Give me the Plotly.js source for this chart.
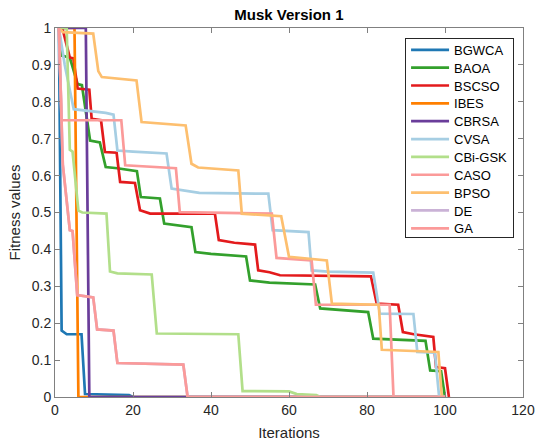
<!DOCTYPE html>
<html>
<head>
<meta charset="utf-8">
<script src="https://cdn.plot.ly/plotly-3.0.1.min.js"></script>
<style>html,body{margin:0;padding:0;background:#fff;}#chart{width:537px;height:444px;}</style>
</head>
<body>
<div id="chart"></div>
<script>
var seriesNames = ["BGWCA","BAOA","BSCSO","IBES","CBRSA","CVSA","CBi-GSK","CASO","BPSO","DE","GA"];
var seriesColors = ["#1f78b4","#33a02c","#e31a1c","#ff7f00","#6a3d9a","#a6cee3","#b2df8a","#fb9a99","#fdbf6f","#cab2d6","#fb9a99"];

var bgwcaX = [1,1.7,3,6.8,7.7,19,20,100];
var bgwcaY = [1,0.18,0.17,0.17,0.008,0.005,0,0];

var baoaX = [1,1.7,3.8,5.8,6.9,9,11.5,13,16,21,22,26.9,28,31,35,36,40,49,50,55,66.7,68,72,80.3,81.6,95,96.2,99,100];
var baoaY = [1,0.925,0.92,0.848,0.845,0.695,0.69,0.623,0.62,0.612,0.542,0.538,0.47,0.465,0.46,0.393,0.388,0.381,0.316,0.31,0.305,0.24,0.237,0.23,0.158,0.152,0.072,0.07,0];

var bscsoX = [1,2,3.8,4.7,5.8,8.8,9.4,11.8,12.8,15.8,16.7,20.5,21.8,24.4,41,42,46,51.3,52.1,55,57.7,81,82.5,88,89.2,92,97,97.7,100,101];
var bscsoY = [1,0.995,0.92,0.918,0.836,0.833,0.754,0.75,0.664,0.662,0.583,0.58,0.506,0.497,0.497,0.425,0.418,0.413,0.343,0.338,0.33,0.327,0.253,0.25,0.176,0.17,0.163,0.081,0.078,0];

var ibesX = [1,5,6,100];
var ibesY = [1,1,0,0];

var cbrsaX = [1,7.9,8.8,100];
var cbrsaY = [1,1,0,0];

var cvsaX = [1,2.5,4.8,13,15,16,20,28.6,29.9,33,37,54.7,55.8,65,65.8,70,81.6,83.3,91.9,92.9,97.4,98.5,100];
var cvsaY = [1,0.9,0.78,0.77,0.765,0.668,0.665,0.66,0.565,0.56,0.553,0.551,0.452,0.447,0.343,0.34,0.337,0.226,0.225,0.122,0.12,0,0];

var cbigskX = [1,3,3.8,4.5,6,7,13.2,14.1,16,24.8,26.1,47,48.1,60,62,67,68,100];
var cbigskY = [1,1,0.67,0.665,0.505,0.5,0.497,0.34,0.335,0.332,0.172,0.17,0.016,0.015,0.008,0.005,0,0];

var casoX = [1,1.7,17,18,31,32,55.6,56.8,65.8,66.9,85.8,86.8,100];
var casoY = [1,0.75,0.75,0.628,0.62,0.501,0.497,0.377,0.37,0.25,0.25,0,0];

var bpsoX = [1,2,9.8,11.1,12,20.9,22.2,30,33.5,35,36.7,47,47.9,58,60,69.7,71,83,83.8,98.3,99.2,100];
var bpsoY = [1,0.989,0.985,0.883,0.867,0.858,0.745,0.74,0.736,0.632,0.622,0.614,0.497,0.49,0.38,0.37,0.253,0.25,0.128,0.122,0,0];

var deX = [1,2,3.8,4.5,5.7,9.8,10.8,15,16,32.9,34,100];
var deY = [1,0.63,0.452,0.45,0.276,0.27,0.183,0.18,0.092,0.088,0,0];

var gaX = [1,2,3.8,4.5,5.7,9.8,10.8,15,16,32.9,34,100];
var gaY = [1,0.63,0.452,0.45,0.276,0.27,0.183,0.18,0.092,0.088,0,0];

var xs = [bgwcaX,baoaX,bscsoX,ibesX,cbrsaX,cvsaX,cbigskX,casoX,bpsoX,deX,gaX];
var ys = [bgwcaY,baoaY,bscsoY,ibesY,cbrsaY,cvsaY,cbigskY,casoY,bpsoY,deY,gaY];

var xTicks = [0,20,40,60,80,100,120];
var yTicks = [0,0.1,0.2,0.3,0.4,0.5,0.6,0.7,0.8,0.9,1];
var yTickText = ["0","0.1","0.2","0.3","0.4","0.5","0.6","0.7","0.8","0.9","1"];

var FONT = 'Liberation Sans, Arial, sans-serif';

var traces = seriesNames.map(function(n,i){
  return {x: xs[i], y: ys[i], name: n, type: 'scatter', mode: 'lines',
          line: {color: seriesColors[i], width: 2.7}};
});

var axisCommon = {
  showline: true, linecolor: '#808080', linewidth: 1, mirror: 'allticks',
  ticks: 'inside', ticklen: 5, tickcolor: '#808080', tickwidth: 1,
  showgrid: false, zeroline: false,
  tickfont: {family: FONT, size: 14, color: '#262626'}
};

var layout = {
  width: 537, height: 444,
  margin: {l: 55, r: 14, t: 28, b: 47},
  paper_bgcolor: '#fff', plot_bgcolor: '#fff',
  title: {text: '<b>Musk Version 1</b>', x: 0.538, xanchor: 'center', y: 0.966, yanchor: 'middle',
          font: {family: FONT, size: 15, color: '#000'}},
  xaxis: Object.assign({}, axisCommon, {range: [0,120], tickvals: xTicks,
          title: {text: 'Iterations', standoff: 10, font: {family: FONT, size: 15, color: '#262626'}}}),
  yaxis: Object.assign({}, axisCommon, {range: [0,1], tickvals: yTicks, ticktext: yTickText,
          title: {text: 'Fitness values', standoff: 7, font: {family: FONT, size: 15, color: '#262626'}}}),
  showlegend: true,
  legend: {x: 0.748, y: 0.972, xanchor: 'left', yanchor: 'top',
           bgcolor: '#fff', bordercolor: '#262626', borderwidth: 1,
           font: {family: FONT, size: 13, color: '#000'},
           itemwidth: 38, tracegroupgap: 0}
};

var gd = document.getElementById('chart');
Plotly.newPlot(gd, traces, layout, {displayModeBar: false, staticPlot: true}).then(function(){
  // tighten legend row spacing to match the reference
  var items = gd.querySelectorAll('.legend .traces');
  var step = 17.85, b0 = null;
  items.forEach(function(el, i){
    var t = el.getAttribute('transform') || '';
    var m = t.match(/translate\(\s*([-\d.]+)[ ,]+([-\d.]+)\s*\)/);
    if (!m) return;
    var tx = parseFloat(m[1]), ty = parseFloat(m[2]);
    if (b0 === null) b0 = ty - 4.5;
    el.setAttribute('transform', 'translate(' + tx + ',' + (b0 + i * step) + ')');
  });
  var bg = gd.querySelector('.legend .bg');
  if (bg) bg.setAttribute('height', 199);
});
</script>
</body>
</html>
